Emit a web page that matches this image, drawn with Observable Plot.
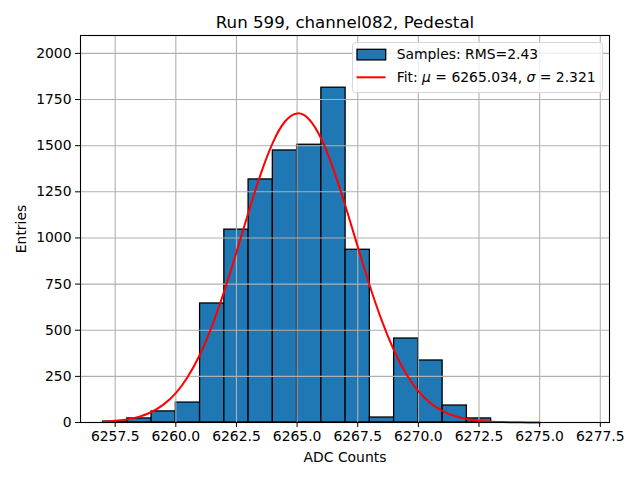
<!DOCTYPE html>
<html>
<head>
<meta charset="utf-8">
<script src="https://cdn.jsdelivr.net/npm/d3@7"></script>
<script src="https://cdn.jsdelivr.net/npm/@observablehq/plot@0.6"></script>
<style>
  html, body { margin: 0; padding: 0; background: #fff; }
  #wrap { position: relative; width: 640px; height: 480px; font-family: "DejaVu Sans", sans-serif; }
  #legend { position: absolute; left: 352px; top: 42px; }
</style>
</head>
<body>
<div id="wrap"></div>
<script>
// Histogram bin edges (ADC counts) and entries per bin
const binEdges = [6257, 6258, 6259, 6260, 6261, 6262, 6263, 6264, 6265, 6266, 6267,
                  6268, 6269, 6270, 6271, 6272, 6273, 6274, 6275, 6276, 6277];
const counts = [5, 22, 60, 108, 645, 1045, 1317, 1474, 1505, 1814, 936,
                27, 455, 336, 92, 22, 0, 0, 0, 0];

// Fit curve
const fitX = [6257, 6257.5, 6258, 6258.5, 6259, 6259.5, 6260, 6260.5, 6261, 6261.5,
              6262, 6262.5, 6263, 6263.5, 6264, 6264.5, 6265, 6265.5, 6266, 6266.5,
              6267, 6267.5, 6268, 6268.5, 6269, 6269.5, 6270, 6270.5, 6271, 6271.5,
              6272, 6272.5, 6273, 6273.5, 6274, 6274.5, 6275];
const fitY = [4, 9, 17, 32, 57, 98, 159, 249, 370, 525,
              713, 923, 1141, 1346, 1517, 1631, 1675, 1642, 1536, 1372,
              1170, 953, 740, 549, 389, 263, 170, 105, 62, 35,
              18.5, 9.5, 4.6, 2.2, 1.0, 0.4, 0.2];

// Tick values
const xTicks = [6257.5, 6260, 6262.5, 6265, 6267.5, 6270, 6272.5, 6275, 6277.5];
const yTicks = [0, 250, 500, 750, 1000, 1250, 1500, 1750, 2000];

const titleText = "Run 599, channel082, Pedestal";
const xLabel = "ADC Counts";
const yLabel = "Entries";

const bins = counts.map((c, i) => ({x1: binEdges[i], x2: binEdges[i + 1], y: c}));
const fit = fitX.map((x, i) => ({x, y: fitY[i]}));

const chart = Plot.plot({
  width: 640,
  height: 480,
  marginLeft: 80,
  marginRight: 31,
  marginTop: 35,
  marginBottom: 58,
  style: {fontFamily: "DejaVu Sans, sans-serif", fontSize: "13.9px", background: "#fff", color: "#000"},
  x: {domain: [6256.07, 6277.88]},
  y: {domain: [0, 2097]},
  marks: [
    Plot.rectY(bins, {x1: "x1", x2: "x2", y: "y", fill: "#1f77b4", stroke: "#000", strokeWidth: 1.3}),
    Plot.gridX(xTicks, {stroke: "#b0b0b0", strokeOpacity: 1, strokeWidth: 1.1}),
    Plot.gridY(yTicks, {stroke: "#b0b0b0", strokeOpacity: 1, strokeWidth: 1.1}),
    Plot.line(fit, {x: "x", y: "y", stroke: "red", strokeWidth: 2, curve: "natural"}),
    Plot.frame({stroke: "#000", strokeWidth: 1.1}),
    Plot.axisX(xTicks, {tickFormat: d3.format(".1f"), tickSize: 5, tickPadding: 4, fontSize: 13.9,
      label: xLabel, labelAnchor: "center", labelArrow: "none", labelOffset: 39}),
    Plot.axisY(yTicks, {tickFormat: d => String(d), tickSize: 5, tickPadding: 4, fontSize: 13.9,
      label: yLabel, labelAnchor: "center", labelArrow: "none", labelOffset: 64}),
    Plot.text([titleText], {frameAnchor: "top", dy: -8, lineAnchor: "bottom", fontSize: 16.67, fill: "#000"})
  ]
});

const wrap = document.getElementById("wrap");
wrap.appendChild(chart);

// Legend overlay
const legend = document.createElement("div");
legend.id = "legend";
legend.innerHTML = `
<svg width="252" height="52" xmlns="http://www.w3.org/2000/svg" style="font-family: 'DejaVu Sans', sans-serif; font-size: 13.9px;">
  <rect x="0.5" y="0.5" width="250" height="50" rx="3" ry="3" fill="#fff" fill-opacity="0.8" stroke="#d6d6d6" stroke-width="1"/>
  <rect x="5" y="7.3" width="28.7" height="10.6" fill="#1f77b4" stroke="#000" stroke-width="1.3"/>
  <line x1="4.5" x2="33.5" y1="35.3" y2="35.3" stroke="red" stroke-width="2"/>
  <text x="44.7" y="16.5" fill="#000">Samples: RMS=2.43</text>
  <text x="44.7" y="39.5" fill="#000">Fit: <tspan font-style="italic">μ</tspan> = 6265.034, <tspan font-style="italic">σ</tspan> = 2.321</text>
</svg>`;
wrap.appendChild(legend);
</script>
</body>
</html>
